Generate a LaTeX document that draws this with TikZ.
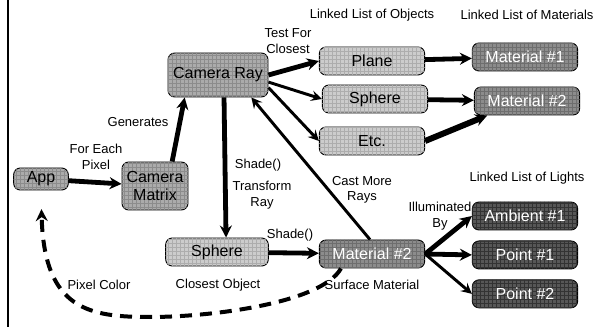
\documentclass[tikz,border=0pt]{standalone}
\usepackage{fontspec}
\setmainfont{Liberation Sans}
\usetikzlibrary{arrows.meta, positioning, patterns}

\begin{document}
\begin{tikzpicture}[
    x=0.75pt, y=-0.75pt,
    node distance=7.5pt,
    every node/.style={
            font=\fontsize{9.75}{11.5}\selectfont,
            align=center,
            inner sep=1pt
        },
    box/.style={
            rectangle,
            rounded corners=5pt,
            draw,
            line width=0.7pt,
            font=\fontsize{12}{13}\selectfont,
            minimum width=79pt,
            minimum height=21pt
        },
    camera_block/.style={box, fill=black!33,
            postaction={pattern=grid, pattern color=black!45}},
    object_block/.style={box, fill=black!20,
            postaction={pattern=grid, pattern color=black!32}},
    material_block/.style={box, fill=black!45, text=white,
            postaction={pattern=grid, pattern color=black!57}},
    light_block/.style={box, fill=black!66, text=white,
            postaction={pattern=grid, pattern color=black!80}},
    arrow/.style={-{Stealth[length=9pt, width=9pt, inset=3pt]}, line width=3.6pt},
    thin_arrow/.style={-{Stealth[length=8pt, width=8pt, inset=3pt]}, line width=2.2pt},
    back_arrow/.style={-{Stealth[length=9pt, width=9pt, inset=3pt]}, line width=3pt,
            dash pattern=on 9pt off 6pt}
    ]

    \useasboundingbox (0,0) rectangle (595,327);
    \draw[line width=1.5pt] (8,0) -- (8,327);

    % --- Camera ---
    \node (app) [camera_block, minimum width=41pt, minimum height=16.5pt] at (41,179) {App};
    \node (camera_matrix) [camera_block, minimum width=49.5pt, minimum height=36pt] at (155,186) {Camera\\Matrix};
    \node (camera_ray) [camera_block, minimum width=75pt, minimum height=33pt] at (218,75) {Camera Ray};

    % --- Linked List of Objects ---
    \node (plane) [object_block] at (372,61) {Plane};
    \node (sphere) [object_block] at (375,99) {Sphere};
    \node (etc) [object_block] at (372,141) {Etc.};

    % --- Linked List of Materials ---
    \node (material_one) [material_block] at (525,57) {Material \#1};
    \node (material_two) [material_block] at (527,101) {Material \#2};

    % --- Shading ---
    \node (closest_sphere) [object_block, minimum width=77pt] at (217,252) {Sphere};
    \node (surface_material) [material_block] at (372,254) {Material \#2};

    % --- Linked List of Lights ---
    \node (ambient) [light_block] at (525,216) {Ambient \#1};
    \node (point_one) [light_block, below=of ambient] {Point \#1};
    \node (point_two) [light_block, below=of point_one] {Point \#2};

    % --- Arrows ---
    \draw[arrow] (app) -- (camera_matrix);
    \draw[arrow] (camera_matrix.55) -- (camera_ray.214);
    \draw[arrow] (camera_ray.east) -- (plane.west);
    \draw[thin_arrow] (camera_ray.-8) -- (sphere.west);
    \draw[thin_arrow] (camera_ray.-14) -- (etc.west);
    \draw[arrow] (plane) -- (material_one);
    \draw[arrow] (sphere) -- (material_two);
    \draw[arrow, line width=4.5pt] (etc.east) -- (material_two.200);
    \draw[arrow] (camera_ray.-75) -- (closest_sphere.58);
    \draw[arrow] (closest_sphere) -- (surface_material);
    \draw[thin_arrow] (surface_material.98) -- (camera_ray.-34);
    \draw[arrow] (surface_material.east) -- (ambient.west);
    \draw[arrow] (surface_material.east) -- (point_one.west);
    \draw[thin_arrow] (surface_material.east) -- (point_two.west);

    % --- Pixel colour back to the app ---
    \coordinate (dip) at (150,317);
    \draw[back_arrow, shorten >=14pt] (surface_material.205)
        .. controls +(-20,35) and +(60,0) .. (dip)
        .. controls +(-60,0) and +(3,120) .. (app.south);

    % --- Labels ---
    \node (for_each) at (96,157) {For Each\\Pixel};
    \node (generates) at (138,122) {Generates};
    \node (test_for) at (288,41) {Test For\\Closest};
    \node (objects_title) at (372,15) {Linked List of Objects};
    \node (materials_title) at (527,15) {Linked List of Materials};
    \node (shade_one) at (258,165) {Shade()};
    \node (transform) at (262,195) {Transform\\Ray};
    \node (shade_two) at (290,235) {Shade()};
    \node (cast_more) at (362,190) {Cast More\\Rays};
    \node (lights_title) at (527,178) {Linked List of Lights};
    \node (illuminated) at (440,216) {Illuminated\\By};
    \node (pixel_color) at (99,285) {Pixel Color};
    \node (closest_object) at (218,285) {Closest Object};
    \node (surface_label) at (372,285) {Surface Material};

\end{tikzpicture}
\end{document}
